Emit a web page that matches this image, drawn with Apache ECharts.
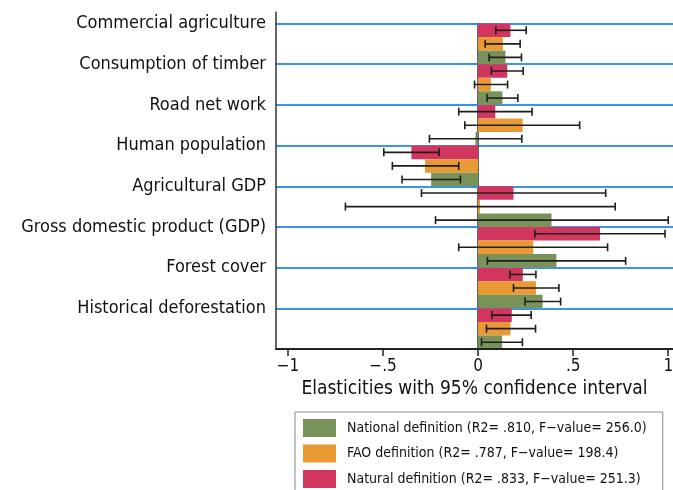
<!DOCTYPE html>
<html>
<head>
<meta charset="utf-8">
<script src="https://cdn.jsdelivr.net/npm/echarts@6/dist/echarts.min.js"></script>
<style>
html,body{margin:0;padding:0;background:#fff;overflow:hidden;}
#chart{width:673px;height:500px;}
</style>
</head>
<body>
<div id="chart"></div>
<script>
// ---- data ----
var categories = ['Commercial agriculture', 'Consumption of timber', 'Road net work', 'Human population',
  'Agricultural GDP', 'Gross domestic product (GDP)', 'Forest cover', 'Historical deforestation'];

var naturalValues = [0.170, 0.153, 0.090, -0.351, 0.186, 0.641, 0.235, 0.177];
var naturalLow    = [0.093, 0.070, -0.102, -0.496, -0.298, 0.298, 0.167, 0.072];
var naturalHigh   = [0.253, 0.237, 0.284, -0.205, 0.671, 0.983, 0.304, 0.279];

var faoValues = [0.130, 0.067, 0.234, -0.279, 0.010, 0.290, 0.304, 0.170];
var faoLow    = [0.037, -0.019, -0.070, -0.451, -0.698, -0.102, 0.186, 0.044];
var faoHigh   = [0.221, 0.155, 0.534, -0.102, 0.721, 0.681, 0.425, 0.302];

var nationalValues = [0.144, 0.128, -0.014, -0.247, 0.386, 0.412, 0.339, 0.126];
var nationalLow    = [0.058, 0.047, -0.256, -0.400, -0.224, 0.049, 0.247, 0.018];
var nationalHigh   = [0.228, 0.209, 0.230, -0.093, 1.000, 0.776, 0.434, 0.233];

var seriesNames = {
  national: 'National definition (R2= .810, F\u2212value= 256.0)',
  fao: 'FAO definition (R2= .787, F\u2212value= 198.4)',
  natural: 'Natural definition (R2= .833, F\u2212value= 251.3)'
};

var xTickValues = [-1, -0.5, 0, 0.5, 1];
var xTickLabels = ['\u22121', '\u2212.5', '0', '.5', '1'];

// ---- styling ----
var FONT = "'DejaVu Sans Condensed', 'DejaVu Sans', sans-serif";
var colors = { national: '#78925a', fao: '#ea9a34', natural: '#d2365e' };

// order of bars from top to bottom within each category band
var slotOrder = ['natural', 'fao', 'national'];
var groups = {
  natural: { v: naturalValues, lo: naturalLow, hi: naturalHigh },
  fao: { v: faoValues, lo: faoLow, hi: faoHigh },
  national: { v: nationalValues, lo: nationalLow, hi: nationalHigh }
};

function errorSeries(key, slot) {
  var g = groups[key];
  var data = categories.map(function (c, i) { return [i, g.lo[i], g.hi[i]]; });
  return {
    type: 'custom',
    name: key + '-ci',
    xAxisIndex: 0, yAxisIndex: 0,
    z: 10,
    silent: true,
    encode: { y: 0, x: [1, 2] },
    data: data,
    renderItem: function (params, api) {
      var idx = api.value(0);
      var p1 = api.coord([api.value(1), idx]);
      var p2 = api.coord([api.value(2), idx]);
      var band = api.size([0, 1])[1];
      var y = p1[1] - band / 2 + band / 3 * (slot + 0.5);
      var cap = 4;
      var st = { stroke: '#1e1e1e', lineWidth: 1.6 };
      return {
        type: 'group',
        children: [
          { type: 'line', shape: { x1: p1[0], y1: y, x2: p2[0], y2: y }, style: st },
          { type: 'line', shape: { x1: p1[0], y1: y - cap, x2: p1[0], y2: y + cap }, style: st },
          { type: 'line', shape: { x1: p2[0], y1: y - cap, x2: p2[0], y2: y + cap }, style: st }
        ]
      };
    }
  };
}

var series = [];
slotOrder.forEach(function (key) {
  series.push({
    type: 'bar',
    name: seriesNames[key],
    xAxisIndex: 0, yAxisIndex: 0,
    data: groups[key].v,
    barGap: '0%',
    barCategoryGap: '0%',
    itemStyle: { color: colors[key] },
    z: 2
  });
});
slotOrder.forEach(function (key, slot) { series.push(errorSeries(key, slot)); });

var chart = echarts.init(document.getElementById('chart'), null, { renderer: 'canvas' });
chart.setOption({
  animation: false,
  backgroundColor: '#ffffff',
  textStyle: { fontFamily: FONT },
  grid: [
    { left: 276, right: 0, top: 23.5, bottom: 151, containLabel: false, outerBoundsMode: 'none' },
    { left: 276, right: 0, top: 12, bottom: 151, containLabel: false, outerBoundsMode: 'none' }
  ],
  xAxis: [
    {
      type: 'value', gridIndex: 0, z: 12,
      min: -1.063, max: 1.025,
      minInterval: 0.5, maxInterval: 0.5,
      axisLine: { show: true, onZero: false, lineStyle: { color: '#222', width: 2 } },
      axisTick: { show: true, length: 7, customValues: xTickValues, lineStyle: { color: '#222', width: 1.5 } },
      axisLabel: {
        customValues: xTickValues,
        fontFamily: FONT, fontSize: 17, color: '#111', margin: 9,
        formatter: function (v) {
          var i = xTickValues.indexOf(v);
          return i >= 0 ? xTickLabels[i] : '';
        }
      },
      splitLine: { show: false },
      name: 'Elasticities with 95% confidence interval',
      nameLocation: 'middle',
      nameGap: 29,
      nameTextStyle: { fontFamily: FONT, fontSize: 19, color: '#111' }
    },
    { type: 'value', gridIndex: 1, show: false, min: 0, max: 1 }
  ],
  yAxis: [
    {
      type: 'category', gridIndex: 0, inverse: true,
      data: categories,
      boundaryGap: true,
      axisLine: { show: true, lineStyle: { color: '#333', width: 1.5 } },
      axisTick: { show: true, length: 7, lineStyle: { color: '#2f8cf0', width: 2 } },
      axisLabel: {
        interval: 0,
        fontFamily: FONT, fontSize: 18, color: '#111', margin: 10,
        verticalAlign: 'middle',
        lineHeight: 40.7,
        padding: [2, 0, 0, 0],
        formatter: function (v) { return v + '\n\u00a0'; }
      },
      splitLine: { show: true, lineStyle: { color: '#3d93f2', width: 2 } }
    },
    {
      type: 'value', gridIndex: 1, min: 0, max: 1, z: 12,
      axisLine: { show: true, onZero: false, lineStyle: { color: '#333', width: 1.5 } },
      axisTick: { show: false }, axisLabel: { show: false }, splitLine: { show: false }
    }
  ],
  legend: {
    show: true,
    orient: 'vertical',
    left: 295, top: 412,
    data: [seriesNames.national, seriesNames.fao, seriesNames.natural],
    icon: 'rect',
    itemWidth: 33, itemHeight: 18, itemGap: 7.5,
    padding: [7, 16, 10, 8],
    borderColor: '#8a8a8a', borderWidth: 1,
    backgroundColor: '#fff',
    textStyle: { fontFamily: FONT, fontSize: 14, color: '#111', padding: [0, 0, 0, 6] },
    selectedMode: false
  },
  series: series
});
</script>
</body>
</html>
